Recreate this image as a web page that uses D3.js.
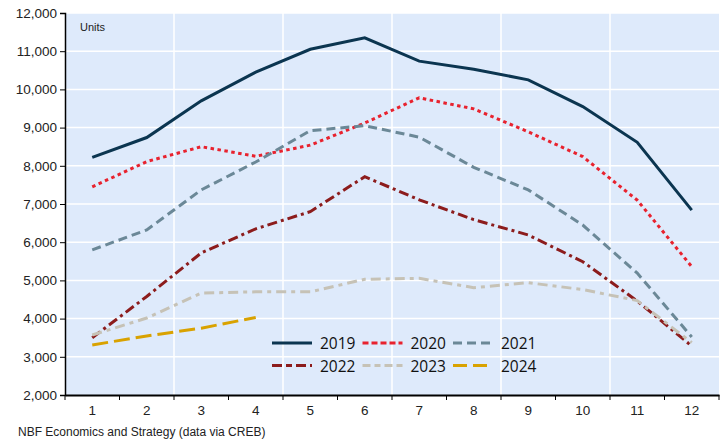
<!DOCTYPE html>
<html>
<head>
	<meta charset='utf-8'>
	<title>Calgary home sales by month</title>
	<style>
		body {margin: 0; background: #fff;}
		svg {display: block; font-family: 'Liberation Sans', Arial, sans-serif;}
		.grid line {stroke: #ffffff; stroke-width: 1.5px;}
		.tick text {fill: #222; font-size: 13.5px;}
		.series {fill: none; stroke-width: 3px;}
	</style>
</head>
<body>
	<script src='https://cdn.jsdelivr.net/npm/d3@7'></script>
	<script>

		var months = [1, 2, 3, 4, 5, 6, 7, 8, 9, 10, 11, 12];
		var yTicks = [2000, 3000, 4000, 5000, 6000, 7000, 8000, 9000, 10000, 11000, 12000];

		var s2019 = [8220, 8740, 9700, 10450, 11050, 11350, 10740, 10530, 10250, 9550, 8615, 6840];
		var s2020 = [7450, 8110, 8500, 8250, 8540, 9120, 9780, 9490, 8890, 8240, 7100, 5360];
		var s2021 = [5800, 6320, 7370, 8100, 8920, 9050, 8750, 7960, 7370, 6450, 5190, 3520];
		var s2022 = [3500, 4580, 5720, 6350, 6800, 7715, 7110, 6590, 6190, 5490, 4460, 3280];
		var s2023 = [3570, 4015, 4670, 4700, 4700, 5030, 5055, 4810, 4940, 4760, 4470, 3370];
		var s2024 = [3310, 3545, 3750, 4030];

		var years = ['2019', '2020', '2021', '2022', '2023', '2024'];
		var values = [s2019, s2020, s2021, s2022, s2023, s2024];
		var colors = ['#0b3550', '#e8222e', '#6b8897', '#8c1c1c', '#c6c2b6', '#d9a200'];
		var dashes = ['none', '3.5,3.5', '9,5', '10,4,3,4', '10,5,4,5', '16,6'];
		var legendDashes = ['none', '6,3', '9,5', '10,4,6,4', '8,4,6,4', '14,6'];

		var W = 722, H = 439;
		var pLeft = 65, pRight = 719, pTop = 13, pBottom = 395;

		var svg = d3.select('body').append('svg').attr('width', W).attr('height', H);

		var x = d3.scaleBand().domain(months).range([pLeft, pRight]);
		var y = d3.scaleLinear().domain([2000, 12000]).range([pBottom, pTop]);

		// plot background
		svg.append('rect')
			.attr('x', pLeft).attr('y', pTop)
			.attr('width', pRight - pLeft).attr('height', pBottom - pTop)
			.attr('fill', '#deeafb');

		// horizontal grid
		svg.append('g').attr('class', 'grid')
			.selectAll('line').data(yTicks.slice(1)).enter().append('line')
			.attr('x1', pLeft).attr('x2', pRight)
			.attr('y1', function(d) { return y(d); })
			.attr('y2', function(d) { return y(d); });

		// vertical grid at every second month boundary
		svg.append('g').attr('class', 'grid')
			.selectAll('line').data([2, 4, 6, 8, 10]).enter().append('line')
			.attr('x1', function(d) { return x(d) + x.bandwidth(); })
			.attr('x2', function(d) { return x(d) + x.bandwidth(); })
			.attr('y1', pTop).attr('y2', pBottom);

		// series
		var line = d3.line()
			.x(function(d, i) { return x(months[i]) + x.bandwidth() / 2; })
			.y(function(d) { return y(d); });

		svg.append('g').selectAll('path').data(values).enter().append('path')
			.attr('class', 'series')
			.attr('d', line)
			.attr('stroke', function(d, i) { return colors[i]; })
			.attr('stroke-dasharray', function(d, i) { return dashes[i]; });

		// axes
		var yAxis = svg.append('g')
			.attr('transform', 'translate(' + pLeft + ',0)')
			.call(d3.axisLeft(y).tickValues(yTicks).tickFormat(d3.format(',')).tickSizeOuter(0).tickSize(5).tickPadding(3));
		yAxis.select('.domain').attr('stroke', '#000').attr('stroke-width', 1.5);
		yAxis.selectAll('.tick line').attr('stroke', '#000');

		var xAxis = svg.append('g')
			.attr('transform', 'translate(0,' + pBottom + ')')
			.call(d3.axisBottom(x).tickSize(0).tickPadding(10));
		xAxis.select('.domain').attr('stroke', '#000').attr('stroke-width', 2);

		// boundary ticks between months
		svg.append('g').selectAll('line').data(d3.range(0, 13)).enter().append('line')
			.attr('x1', function(d) { return pLeft + d * x.step(); })
			.attr('x2', function(d) { return pLeft + d * x.step(); })
			.attr('y1', pBottom).attr('y2', pBottom + 5)
			.attr('stroke', '#000').attr('stroke-width', 1);

		svg.append('text')
			.attr('x', 80).attr('y', 31)
			.attr('font-size', 11).attr('fill', '#222')
			.text('Units');

		svg.append('text')
			.attr('x', 18).attr('y', 436)
			.attr('font-size', 12).attr('fill', '#222')
			.text('NBF Economics and Strategy (data via CREB)');

		// legend
		var legend = svg.append('g').selectAll('g').data(years).enter().append('g')
			.attr('transform', function(d, i) {
				var col = i % 3, row = Math.floor(i / 3);
				return 'translate(' + (272 + col * 90.5) + ',' + (343 + row * 22.5) + ')';
			});
		legend.append('line')
			.attr('x1', 0).attr('x2', 40)
			.attr('stroke-width', 3)
			.attr('stroke', function(d, i) { return colors[i]; })
			.attr('stroke-dasharray', function(d, i) { return legendDashes[i]; });
		legend.append('text')
			.attr('x', 48).attr('y', 6)
			.attr('font-family', "'Open Sans', 'Noto Sans', sans-serif")
			.attr('font-size', 15.5).attr('fill', '#111')
			.text(function(d) { return d; });

	</script>
</body>
</html>
